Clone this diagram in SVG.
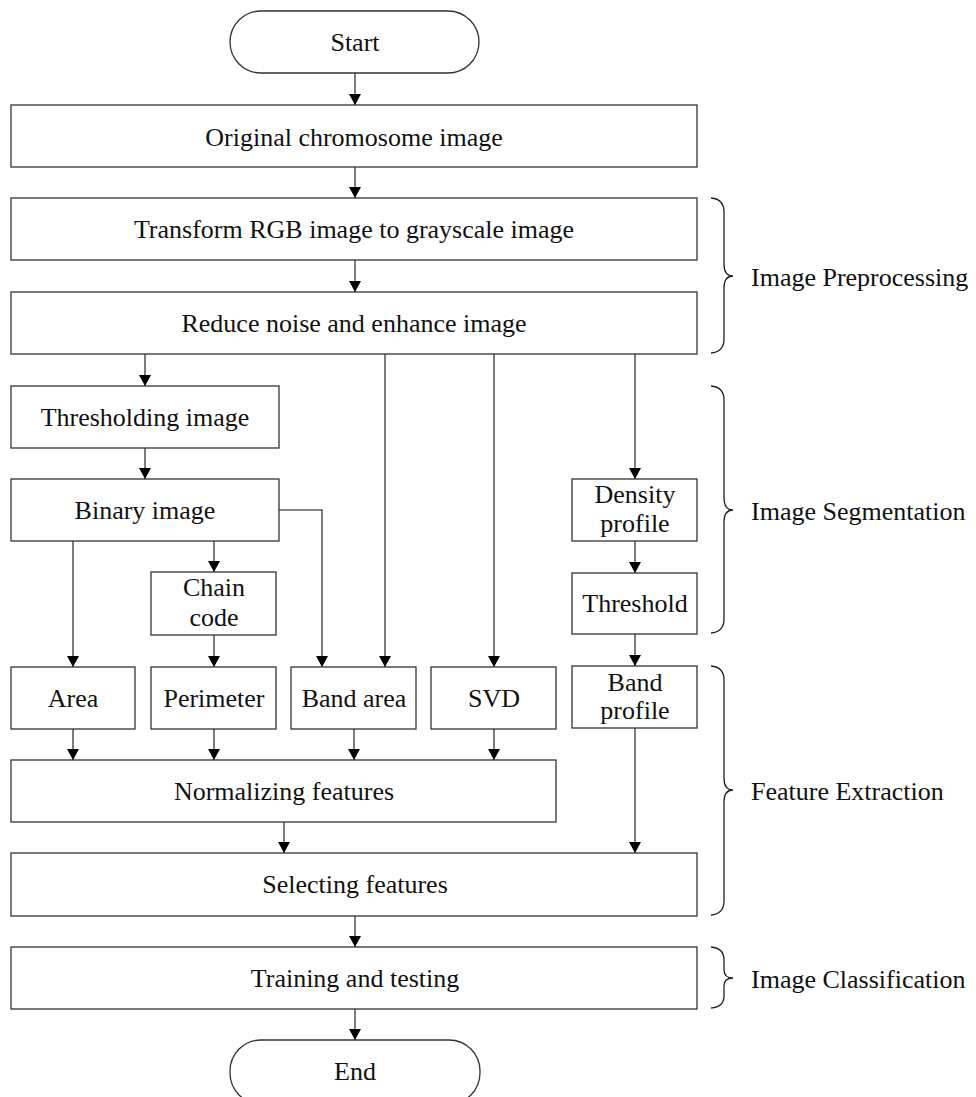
<svg xmlns="http://www.w3.org/2000/svg" width="976" height="1097" viewBox="0 0 976 1097">
  <style>
    .box { fill: #ffffff; stroke: #333333; stroke-width: 1.3; }
    .lbl { font-family: "Liberation Serif", "Times New Roman", serif; font-size: 26px; fill: #111111; text-anchor: middle; }
    .stage { font-family: "Liberation Serif", "Times New Roman", serif; font-size: 26px; fill: #111111; }
    .wire { fill: none; stroke: #111111; stroke-width: 1.1; }
    .brace { fill: none; stroke: #222222; stroke-width: 1.3; }
  </style>
  <defs>
    <marker id="arrow" markerUnits="userSpaceOnUse" markerWidth="12" markerHeight="12" refX="11" refY="6" orient="auto">
      <path d="M0,0 L11,6 L0,12 Z" fill="#000000"/>
    </marker>
  </defs>
  <rect width="976" height="1097" fill="#ffffff"/>

  <!-- connectors -->
  <g id="connectors">
    <path class="wire" d="M355,73 V105" marker-end="url(#arrow)"/>
    <path class="wire" d="M355,167 V198" marker-end="url(#arrow)"/>
    <path class="wire" d="M355,260 V292" marker-end="url(#arrow)"/>
    <path class="wire" d="M145,354 V386" marker-end="url(#arrow)"/>
    <path class="wire" d="M385,354 V667" marker-end="url(#arrow)"/>
    <path class="wire" d="M494,354 V667" marker-end="url(#arrow)"/>
    <path class="wire" d="M635,354 V479" marker-end="url(#arrow)"/>
    <path class="wire" d="M145,448 V479" marker-end="url(#arrow)"/>
    <path class="wire" d="M73,541 V667" marker-end="url(#arrow)"/>
    <path class="wire" d="M214,541 V572" marker-end="url(#arrow)"/>
    <path class="wire" d="M279,510 H322 V667" marker-end="url(#arrow)"/>
    <path class="wire" d="M214,635 V667" marker-end="url(#arrow)"/>
    <path class="wire" d="M635,541 V573" marker-end="url(#arrow)"/>
    <path class="wire" d="M635,634 V666" marker-end="url(#arrow)"/>
    <path class="wire" d="M73,729 V760" marker-end="url(#arrow)"/>
    <path class="wire" d="M214,729 V760" marker-end="url(#arrow)"/>
    <path class="wire" d="M354,729 V760" marker-end="url(#arrow)"/>
    <path class="wire" d="M494,729 V760" marker-end="url(#arrow)"/>
    <path class="wire" d="M635,728 V853" marker-end="url(#arrow)"/>
    <path class="wire" d="M284,822 V853" marker-end="url(#arrow)"/>
    <path class="wire" d="M355,916 V947" marker-end="url(#arrow)"/>
    <path class="wire" d="M355,1009 V1040" marker-end="url(#arrow)"/>
  </g>

  <!-- process nodes -->
  <g id="start">
    <rect class="box" x="230" y="11" width="249" height="62" rx="31" ry="31"/>
    <text class="lbl" x="355" y="51">Start</text>
  </g>
  <g id="original">
    <rect class="box" x="11" y="105" width="686" height="62"/>
    <text class="lbl" x="354" y="146">Original chromosome image</text>
  </g>
  <g id="grayscale">
    <rect class="box" x="11" y="198" width="686" height="62"/>
    <text class="lbl" x="354" y="238">Transform RGB image to grayscale image</text>
  </g>
  <g id="denoise">
    <rect class="box" x="11" y="292" width="686" height="62"/>
    <text class="lbl" x="354" y="332">Reduce noise and enhance image</text>
  </g>
  <g id="thresholding">
    <rect class="box" x="11" y="386" width="268" height="62"/>
    <text class="lbl" x="145" y="426">Thresholding image</text>
  </g>
  <g id="binary">
    <rect class="box" x="11" y="479" width="268" height="62"/>
    <text class="lbl" x="145" y="519">Binary image</text>
  </g>
  <g id="chain-code">
    <rect class="box" x="151" y="572" width="125" height="63"/>
    <text class="lbl" x="214" y="596">Chain</text>
    <text class="lbl" x="214" y="626">code</text>
  </g>
  <g id="density">
    <rect class="box" x="572" y="479" width="125" height="62"/>
    <text class="lbl" x="635" y="503">Density</text>
    <text class="lbl" x="635" y="532">profile</text>
  </g>
  <g id="threshold">
    <rect class="box" x="572" y="573" width="125" height="61"/>
    <text class="lbl" x="635" y="612">Threshold</text>
  </g>
  <g id="area">
    <rect class="box" x="11" y="667" width="124" height="62"/>
    <text class="lbl" x="73" y="707">Area</text>
  </g>
  <g id="perimeter">
    <rect class="box" x="151" y="667" width="125" height="62"/>
    <text class="lbl" x="214" y="707">Perimeter</text>
  </g>
  <g id="band-area">
    <rect class="box" x="291" y="667" width="125" height="62"/>
    <text class="lbl" x="354" y="707">Band area</text>
  </g>
  <g id="svd">
    <rect class="box" x="431" y="667" width="125" height="62"/>
    <text class="lbl" x="494" y="707">SVD</text>
  </g>
  <g id="band-profile">
    <rect class="box" x="572" y="666" width="125" height="62"/>
    <text class="lbl" x="635" y="691">Band</text>
    <text class="lbl" x="635" y="719">profile</text>
  </g>
  <g id="normalizing">
    <rect class="box" x="11" y="760" width="545" height="62"/>
    <text class="lbl" x="284" y="800">Normalizing features</text>
  </g>
  <g id="selecting">
    <rect class="box" x="11" y="853" width="686" height="63"/>
    <text class="lbl" x="355" y="893">Selecting features</text>
  </g>
  <g id="training">
    <rect class="box" x="11" y="947" width="686" height="62"/>
    <text class="lbl" x="355" y="987">Training and testing</text>
  </g>
  <g id="end">
    <rect class="box" x="230" y="1040" width="250" height="64" rx="31" ry="31"/>
    <text class="lbl" x="355" y="1080">End</text>
  </g>

  <!-- stage braces and labels -->
  <g id="stage-preprocessing">
    <path class="brace" d="M711,198 Q724,199 724,212 V264 Q724,276 733,276 Q724,276 724,288 V339 Q724,352 711,353"/>
    <text class="stage" x="751" y="286">Image Preprocessing</text>
  </g>
  <g id="stage-segmentation">
    <path class="brace" d="M711,386 Q724,387 724,400 V498 Q724,510 733,510 Q724,510 724,522 V619 Q724,632 711,633"/>
    <text class="stage" x="751" y="520">Image Segmentation</text>
  </g>
  <g id="stage-extraction">
    <path class="brace" d="M711,666 Q724,667 724,680 V778 Q724,790 733,790 Q724,790 724,802 V901 Q724,914 711,915"/>
    <text class="stage" x="751" y="800">Feature Extraction</text>
  </g>
  <g id="stage-classification">
    <path class="brace" d="M711,947 Q724,948 724,960 V970 Q724,978 733,978 Q724,978 724,986 V996 Q724,1007 711,1008"/>
    <text class="stage" x="751" y="988">Image Classification</text>
  </g>
</svg>
